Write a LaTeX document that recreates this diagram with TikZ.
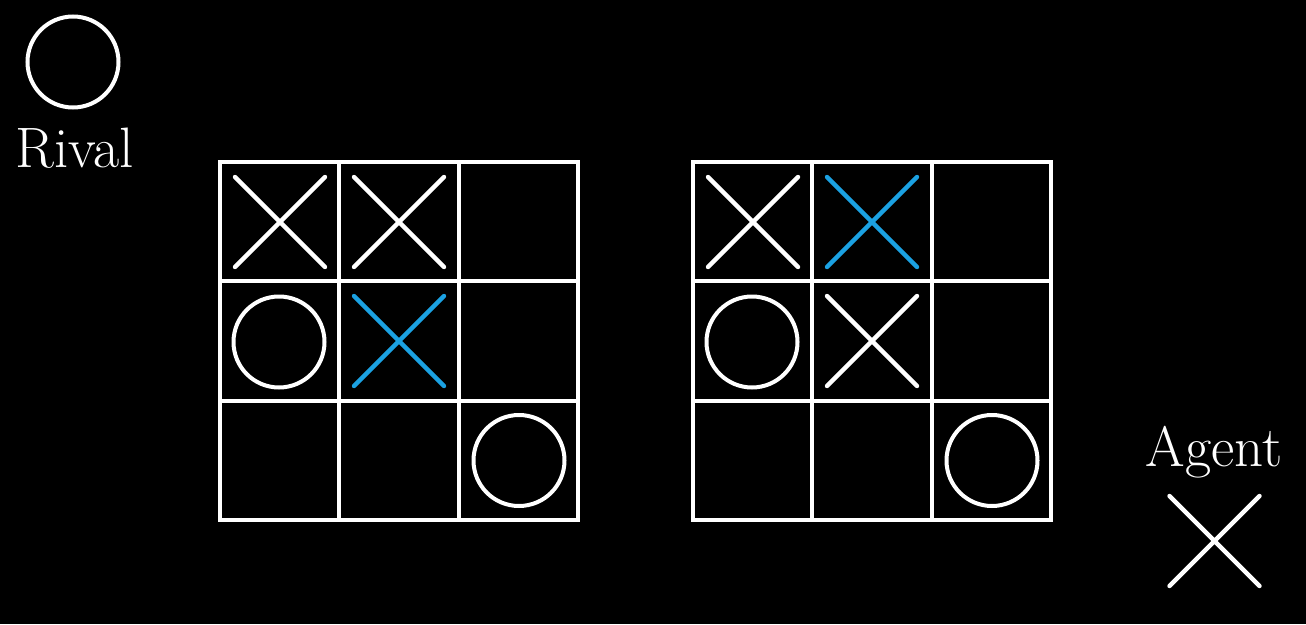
\documentclass[tikz,border=0pt]{standalone}
\definecolor{markblue}{RGB}{27,161,226}
\tikzset{
  cellbox/.style={draw=white, line width=3.8pt},
  omark/.style={circle, draw=white, line width=4pt, minimum size=91pt, inner sep=0pt},
  xline/.style={line width=4.4pt, line cap=round},
  xwhite/.pic={\draw[xline, white] (-45,-45) -- (45,45) (-45,45) -- (45,-45);},
  xblue/.pic={\draw[xline, markblue] (-45,-45) -- (45,45) (-45,45) -- (45,-45);},
  lbl/.style={text=white, font=\fontsize{57}{60}\selectfont, anchor=base, inner sep=0pt}
}
\begin{document}
\begin{tikzpicture}[x=1pt,y=-1pt]
\fill[black] (0,0) rectangle (1306,624);
\useasboundingbox (0,0) rectangle (1306,624);
% grids
\foreach \ox in {220,693} {
  \foreach \i in {0,1,2} {
    \foreach \j in {0,1,2} {
      \draw[cellbox] (\ox+\i*119.3,162+\j*119.3) rectangle ++(119.3,119.3);
    }
  }
}
% board 1
\pic (a11) at (280,222) {xwhite};
\pic (a12) at (399,222) {xwhite};
\node[omark] (a21) at (279,342) {};
\pic (a22) at (399,341) {xblue};
\node[omark] (a33) at (519,460.5) {};
% board 2
\pic (b11) at (753,222) {xwhite};
\pic (b12) at (872,222) {xblue};
\node[omark] (b21) at (752,342) {};
\pic (b22) at (872,341) {xwhite};
\node[omark] (b33) at (992,460.5) {};
% legend
\node[omark] (rivalmark) at (73,62) {};
\node[lbl] (rival) at (75,167) {Rival};
\node[lbl] (agent) at (1214,466.5) {Agent};
\pic (agentmark) at (1214.5,541) {xwhite};
\end{tikzpicture}
\end{document}
